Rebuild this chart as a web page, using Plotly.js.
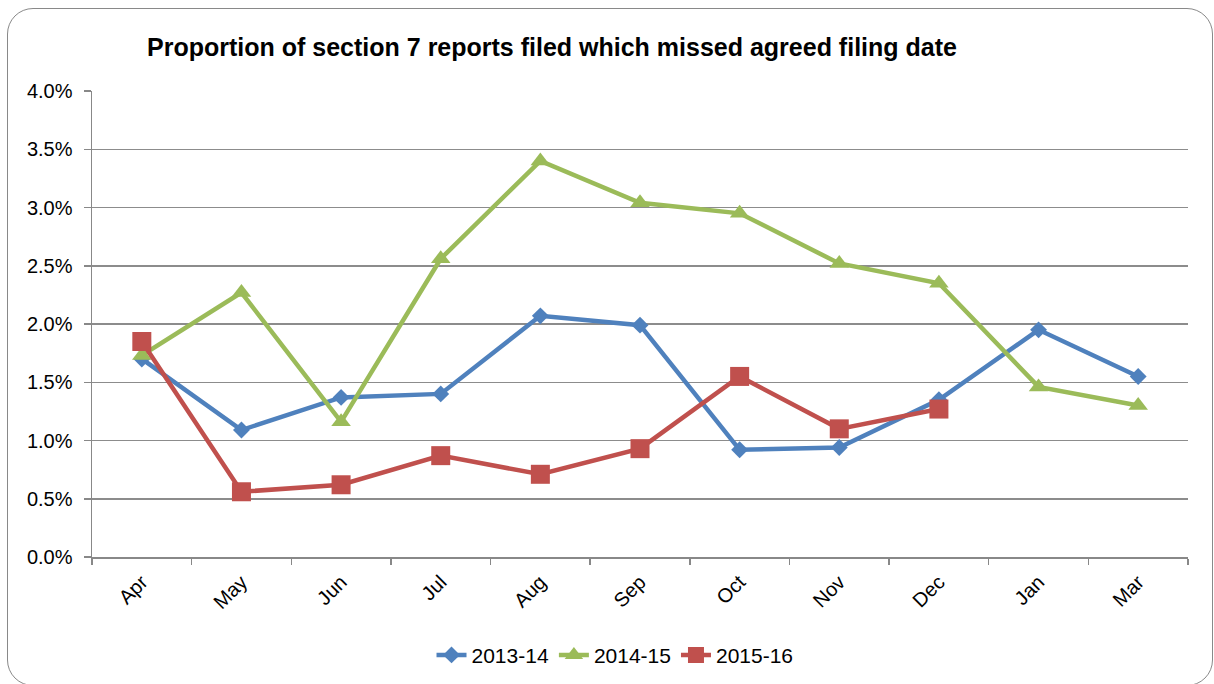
<!DOCTYPE html>
<html>
<head>
<meta charset="utf-8">
<script src="https://cdn.plot.ly/plotly-3.0.1.min.js"></script>
<style>
  html, body { margin: 0; padding: 0; background: #fff; overflow: hidden; }
  #wrap { position: relative; width: 1214px; height: 684px; }
  #chart { position: absolute; left: 0; top: 0; width: 1214px; height: 684px; }
  #frame { position: absolute; left: 7px; top: 8px; width: 1204px; height: 676px;
           border: 1.5px solid #898989; border-radius: 26px; pointer-events: none; }
</style>
</head>
<body>
<div id="wrap">
  <div id="chart"></div>
  <div id="frame"></div>
</div>
<script>
const months = ["Apr", "May", "Jun", "Jul", "Aug", "Sep", "Oct", "Nov", "Dec", "Jan", "Mar"];
const s2013_14 = [0.0170, 0.0109, 0.0137, 0.0140, 0.0207, 0.0199, 0.0092, 0.0094, 0.0135, 0.0195, 0.0155];
const s2014_15 = [0.0173, 0.0227, 0.0116, 0.0256, 0.0340, 0.0304, 0.0295, 0.0252, 0.0235, 0.0146, 0.0130];
const s2015_16 = [0.0185, 0.0056, 0.0062, 0.0087, 0.0071, 0.0093, 0.0155, 0.0110, 0.0127];
const seriesNames = ["2013-14", "2014-15", "2015-16"];

const font = "Liberation Sans, Arial, sans-serif";

const traces = [
  { x: months, y: s2013_14, name: seriesNames[0], type: "scatter", mode: "lines+markers",
    line: { color: "#4F81BD", width: 4.5 },
    marker: { symbol: "diamond", size: 13, color: "#4F81BD" } },
  { x: months, y: s2014_15, name: seriesNames[1], type: "scatter", mode: "lines+markers",
    line: { color: "#9BBB59", width: 4.5 },
    marker: { symbol: "triangle-up", size: 17, color: "#9BBB59" } },
  { x: months.slice(0, s2015_16.length), y: s2015_16, name: seriesNames[2], type: "scatter", mode: "lines+markers",
    line: { color: "#C0504D", width: 4.5 },
    marker: { symbol: "square", size: 19, color: "#C0504D" } }
];

const layout = {
  width: 1214, height: 684,
  margin: { l: 92, r: 26, t: 91, b: 127 },
  paper_bgcolor: "#ffffff", plot_bgcolor: "#ffffff",
  font: { family: font, color: "#000", size: 20 },
  title: { text: "<b>Proportion of section 7 reports filed which missed agreed filing date</b>",
           font: { family: font, size: 25, color: "#000" },
           x: 0.4547, xanchor: "center", xref: "container", y: 0.931, yanchor: "middle", yref: "container" },
  showlegend: true,
  legend: { orientation: "h", x: 0.5066, xanchor: "center", xref: "container",
            y: 0.042, yanchor: "middle", yref: "container",
            font: { family: font, size: 21, color: "#000" }, traceorder: "normal" },
  xaxis: { type: "category", categoryorder: "array", categoryarray: months,
           range: [-0.5, months.length - 0.5], automargin: false,
           tickson: "boundaries", ticks: "outside", ticklen: 6, tickwidth: 1.5, tickcolor: "#888",
           showline: true, linecolor: "#888", linewidth: 1.5, showgrid: false, ticklabelstandoff: 4,
           tickangle: -45, tickfont: { family: font, size: 20, color: "#000" }, zeroline: false },
  yaxis: { range: [0, 0.04], dtick: 0.005, tick0: 0, tickformat: ".1%", automargin: false,
           ticks: "outside", ticklen: 7, tickwidth: 1.5, tickcolor: "#888",
           showline: true, linecolor: "#888", linewidth: 1.5, ticklabelstandoff: 7,
           showgrid: true, gridcolor: "#8c8c8c", gridwidth: 1.5, zeroline: false,
           tickfont: { family: font, size: 20, color: "#000" } }
};

Plotly.newPlot("chart", traces, layout, { displayModeBar: false, staticPlot: true });
</script>
</body>
</html>
